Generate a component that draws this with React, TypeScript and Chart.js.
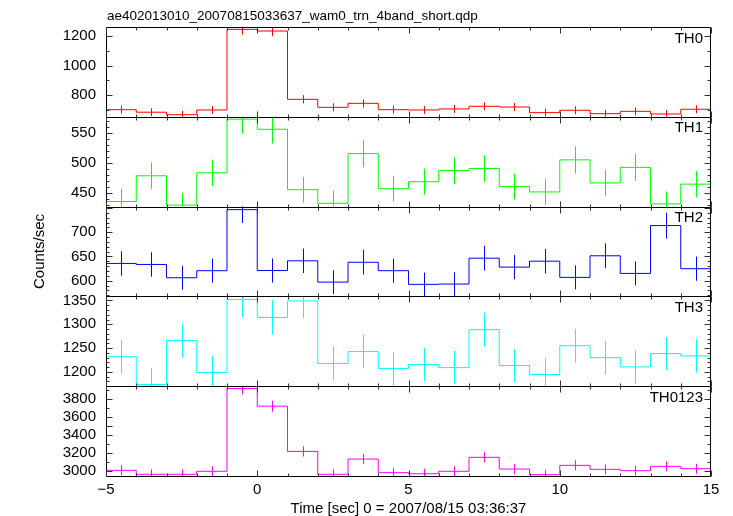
import React, { useEffect, useRef } from 'react';
import { Chart, registerables } from 'chart.js';

Chart.register(...registerables);

const TITLE = 'ae402013010_20070815033637_wam0_trn_4band_short.qdp';
const X_TITLE = 'Time [sec] 0 = 2007/08/15 03:36:37';
const Y_TITLE = 'Counts/sec';

const BIN_START = [-5, -4, -3, -2, -1, 0, 1, 2, 3, 4, 5, 6, 7, 8, 9, 10, 11, 12, 13, 14];
const BIN_WIDTH = 1;
const X_MIN = -5;
const X_MAX = 15;
const X_MAJOR = 5;
const X_MINOR = 1;

const PANEL_NAMES = ['TH0', 'TH1', 'TH2', 'TH3', 'TH0123'];
const COLORS = ['#ff0000', '#00ff00', '#0000ff', '#00ffff', '#ff00ff'];

const TH0 = [703, 686, 669, 701, 1245, 1234, 773, 719, 746, 703, 701, 708, 726, 721, 683, 699, 676, 692, 674, 706];
const TH0_ERR = [26.5, 26.2, 25.9, 26.5, 35.3, 35.1, 27.8, 26.8, 27.3, 26.5, 26.5, 26.6, 26.9, 26.9, 26.1, 26.4, 26.0, 26.3, 26.0, 26.6];
const TH1 = [436, 479, 430, 484, 573.6, 556.7, 455.7, 433, 516, 457.4, 469, 487.7, 491, 461, 452, 505.6, 467, 493, 432, 465];
const TH1_ERR = [20.9, 21.9, 20.7, 22.0, 24.0, 23.6, 21.4, 20.8, 22.7, 21.4, 21.7, 22.1, 22.2, 21.5, 21.3, 22.5, 21.6, 22.2, 20.8, 21.6];
const TH2 = [635.6, 633.5, 606, 620.6, 746.7, 621, 641, 597, 638, 620.6, 592.4, 593, 646.5, 628, 640.3, 606.8, 651.4, 615, 713.8, 624.7];
const TH2_ERR = [25.2, 25.2, 24.6, 24.9, 27.3, 24.9, 25.3, 24.4, 25.3, 24.9, 24.3, 24.4, 25.4, 25.1, 25.3, 24.6, 25.5, 24.8, 26.7, 25.0];
const TH3 = [1232, 1173.6, 1265.7, 1198.7, 1352, 1314.4, 1349, 1217.6, 1242.7, 1207, 1215.5, 1209, 1288.7, 1213.4, 1194.6, 1255, 1230, 1210.5, 1238.5, 1233.5];
const TH3_ERR = [35.1, 34.3, 35.6, 34.6, 36.8, 36.3, 36.7, 34.9, 35.3, 34.7, 34.9, 34.8, 35.9, 34.8, 34.6, 35.4, 35.1, 34.8, 35.2, 35.1];
const TH0123 = [3011, 2967, 2967, 3000, 3918, 3723, 3221, 2967, 3136, 2985, 2973, 3000, 3155, 3025, 2963, 3066, 3022, 3007, 3055, 3029];
const TH0123_ERR = [54.9, 54.5, 54.5, 54.8, 62.6, 61.0, 56.8, 54.5, 56.0, 54.6, 54.5, 54.8, 56.2, 55.0, 54.4, 55.4, 55.0, 54.8, 55.3, 55.0];

const TH0_RANGE = [655, 1261];
const TH1_RANGE = [427.5, 577.5];
const TH2_RANGE = [567.5, 753];
const TH3_RANGE = [1170, 1358.5];
const TH0123_RANGE = [2948, 3944];

const TH0_TICKS = [800, 1000, 1200];
const TH1_TICKS = [450, 500, 550];
const TH2_TICKS = [600, 650, 700];
const TH3_TICKS = [1200, 1250, 1300, 1350];
const TH0123_TICKS = [3000, 3200, 3400, 3600, 3800];

const MINOR_STEPS = [100, 10, 10, 10, 100];

const PANELS = [
  { name: PANEL_NAMES[0], color: COLORS[0], values: TH0, errors: TH0_ERR, range: TH0_RANGE, ticks: TH0_TICKS, minor: MINOR_STEPS[0] },
  { name: PANEL_NAMES[1], color: COLORS[1], values: TH1, errors: TH1_ERR, range: TH1_RANGE, ticks: TH1_TICKS, minor: MINOR_STEPS[1] },
  { name: PANEL_NAMES[2], color: COLORS[2], values: TH2, errors: TH2_ERR, range: TH2_RANGE, ticks: TH2_TICKS, minor: MINOR_STEPS[2] },
  { name: PANEL_NAMES[3], color: COLORS[3], values: TH3, errors: TH3_ERR, range: TH3_RANGE, ticks: TH3_TICKS, minor: MINOR_STEPS[3] },
  { name: PANEL_NAMES[4], color: COLORS[4], values: TH0123, errors: TH0123_ERR, range: TH0123_RANGE, ticks: TH0123_TICKS, minor: MINOR_STEPS[4] },
];

const FONT = '"Liberation Sans", Arial, Helvetica, sans-serif';

const decorPlugin = {
  id: 'qdpDecor',
  afterDatasetsDraw(chart: any) {
    const ctx = chart.ctx;
    const area = chart.chartArea;
    const xs = chart.scales.x;
    const L = Math.round(area.left) + 0.5;
    const R = Math.round(area.right) - 0.5;
    PANELS.forEach((p, i) => {
      const ys = chart.scales['y' + i];
      const top = ys.top;
      const bottom = ys.bottom;
      // error bars
      ctx.save();
      ctx.beginPath();
      ctx.rect(area.left, top, area.right - area.left, bottom - top);
      ctx.clip();
      ctx.strokeStyle = p.color;
      ctx.lineWidth = 1;
      ctx.beginPath();
      BIN_START.forEach((b, j) => {
        const cx = Math.round(xs.getPixelForValue(b + BIN_WIDTH / 2)) + 0.5;
        ctx.moveTo(cx, ys.getPixelForValue(p.values[j] - p.errors[j]));
        ctx.lineTo(cx, ys.getPixelForValue(p.values[j] + p.errors[j]));
      });
      ctx.stroke();
      ctx.restore();

      // frame
      const T = Math.round(top) + 0.5;
      const B = Math.round(bottom) + 0.5;
      ctx.save();
      ctx.strokeStyle = '#000';
      ctx.lineWidth = 1;
      ctx.beginPath();
      ctx.moveTo(L, T); ctx.lineTo(R, T); ctx.lineTo(R, B); ctx.lineTo(L, B); ctx.closePath();
      ctx.stroke();

      // ticks
      ctx.strokeStyle = '#333';
      ctx.beginPath();
      for (let v = X_MIN; v <= X_MAX + 1e-9; v += X_MINOR) {
        const px = Math.round(xs.getPixelForValue(v)) + 0.5;
        const len = Math.abs(v % X_MAJOR) < 1e-9 ? 6 : 3;
        ctx.moveTo(px, T); ctx.lineTo(px, T + len);
        ctx.moveTo(px, B); ctx.lineTo(px, B - len);
      }
      const start = Math.ceil(p.range[0] / p.minor) * p.minor;
      for (let v = start; v <= p.range[1]; v += p.minor) {
        const py = Math.round(ys.getPixelForValue(v)) + 0.5;
        const major = p.ticks.some((t) => Math.abs(t - v) < 1e-6) || Math.abs(v % (p.minor * 5)) < 1e-6;
        const len = major ? 6 : 3;
        ctx.moveTo(L, py); ctx.lineTo(L + len, py);
        ctx.moveTo(R, py); ctx.lineTo(R - len, py);
      }
      ctx.stroke();

      // panel label
      ctx.fillStyle = '#000';
      ctx.font = '15px ' + FONT;
      ctx.textAlign = 'right';
      ctx.textBaseline = 'alphabetic';
      ctx.fillText(p.name, area.right - 8, top + 15.5);
      ctx.restore();
    });
  },
  afterDraw(chart: any) {
    const ctx = chart.ctx;
    const area = chart.chartArea;
    ctx.save();
    ctx.fillStyle = '#000';
    ctx.font = '13.5px ' + FONT;
    ctx.textAlign = 'left';
    ctx.textBaseline = 'alphabetic';
    ctx.fillText(TITLE, area.left + 1, 20);

    ctx.font = '15px ' + FONT;
    ctx.textAlign = 'center';
    ctx.fillText(X_TITLE, (area.left + area.right) / 2, 513);

    ctx.translate(40, (area.top + area.bottom) / 2);
    ctx.rotate(-Math.PI / 2);
    ctx.textBaseline = 'middle';
    ctx.fillText(Y_TITLE, 0, 0);
    ctx.restore();
  },
};

export default function App() {
  const canvasRef = useRef<HTMLCanvasElement | null>(null);

  useEffect(() => {
    const canvas = canvasRef.current;
    if (!canvas) return;

    const datasets = PANELS.map((p, i) => ({
      label: p.name,
      data: [
        ...BIN_START.map((x, j) => ({ x, y: p.values[j] })),
        { x: BIN_START[BIN_START.length - 1] + BIN_WIDTH, y: p.values[p.values.length - 1] },
      ],
      yAxisID: 'y' + i,
      xAxisID: 'x',
      stepped: true,
      borderColor: p.color,
      backgroundColor: p.color,
      borderWidth: 1,
      pointRadius: 0,
      fill: false,
    }));

    const scales: any = {};
    // defined bottom-to-top so that the stack places TH0 at the top
    for (let i = PANELS.length - 1; i >= 0; i--) {
      const p = PANELS[i];
      scales['y' + i] = {
        type: 'linear',
        position: 'left',
        stack: 'panels',
        stackWeight: 1,
        min: p.range[0],
        max: p.range[1],
        offset: false,
        grid: { display: false, drawTicks: false },
        border: { display: false },
        afterBuildTicks: (s: any) => {
          s.ticks = p.ticks.map((v) => ({ value: v }));
        },
        afterFit: (s: any) => {
          s.width = 106;
        },
        ticks: {
          autoSkip: false,
          padding: 10,
          color: '#000',
          font: { size: 15, family: FONT },
          callback: (v: any) => String(v),
        },
      };
    }
    scales.x = {
      type: 'linear',
      position: 'bottom',
      min: X_MIN,
      max: X_MAX,
      grid: { display: false, drawTicks: false },
      border: { display: false },
      afterFit: (s: any) => {
        s.height = 40;
      },
      ticks: {
        stepSize: X_MAJOR,
        autoSkip: false,
        maxRotation: 0,
        padding: 5,
        color: '#000',
        font: { size: 15, family: FONT },
        callback: (v: any) => (v < 0 ? '\u2212' + Math.abs(v) : String(v)),
      },
    };

    const chart = new Chart(canvas, {
      type: 'line',
      data: { datasets },
      options: {
        animation: false,
        responsive: false,
        maintainAspectRatio: false,
        devicePixelRatio: 1,
        layout: { padding: { top: 27, right: 22, left: 0, bottom: 0 } },
        plugins: {
          legend: { display: false },
          title: { display: false },
          tooltip: { enabled: false },
        },
        elements: { line: { tension: 0 } },
        scales,
      },
      plugins: [decorPlugin],
    } as any);

    return () => chart.destroy();
  }, []);

  return (
    <div style={{ position: 'fixed', left: 0, top: 0, width: 733, height: 516, background: '#fff' }}>
      <canvas ref={canvasRef} width={733} height={516} style={{ width: 733, height: 516, display: 'block' }} />
    </div>
  );
}
